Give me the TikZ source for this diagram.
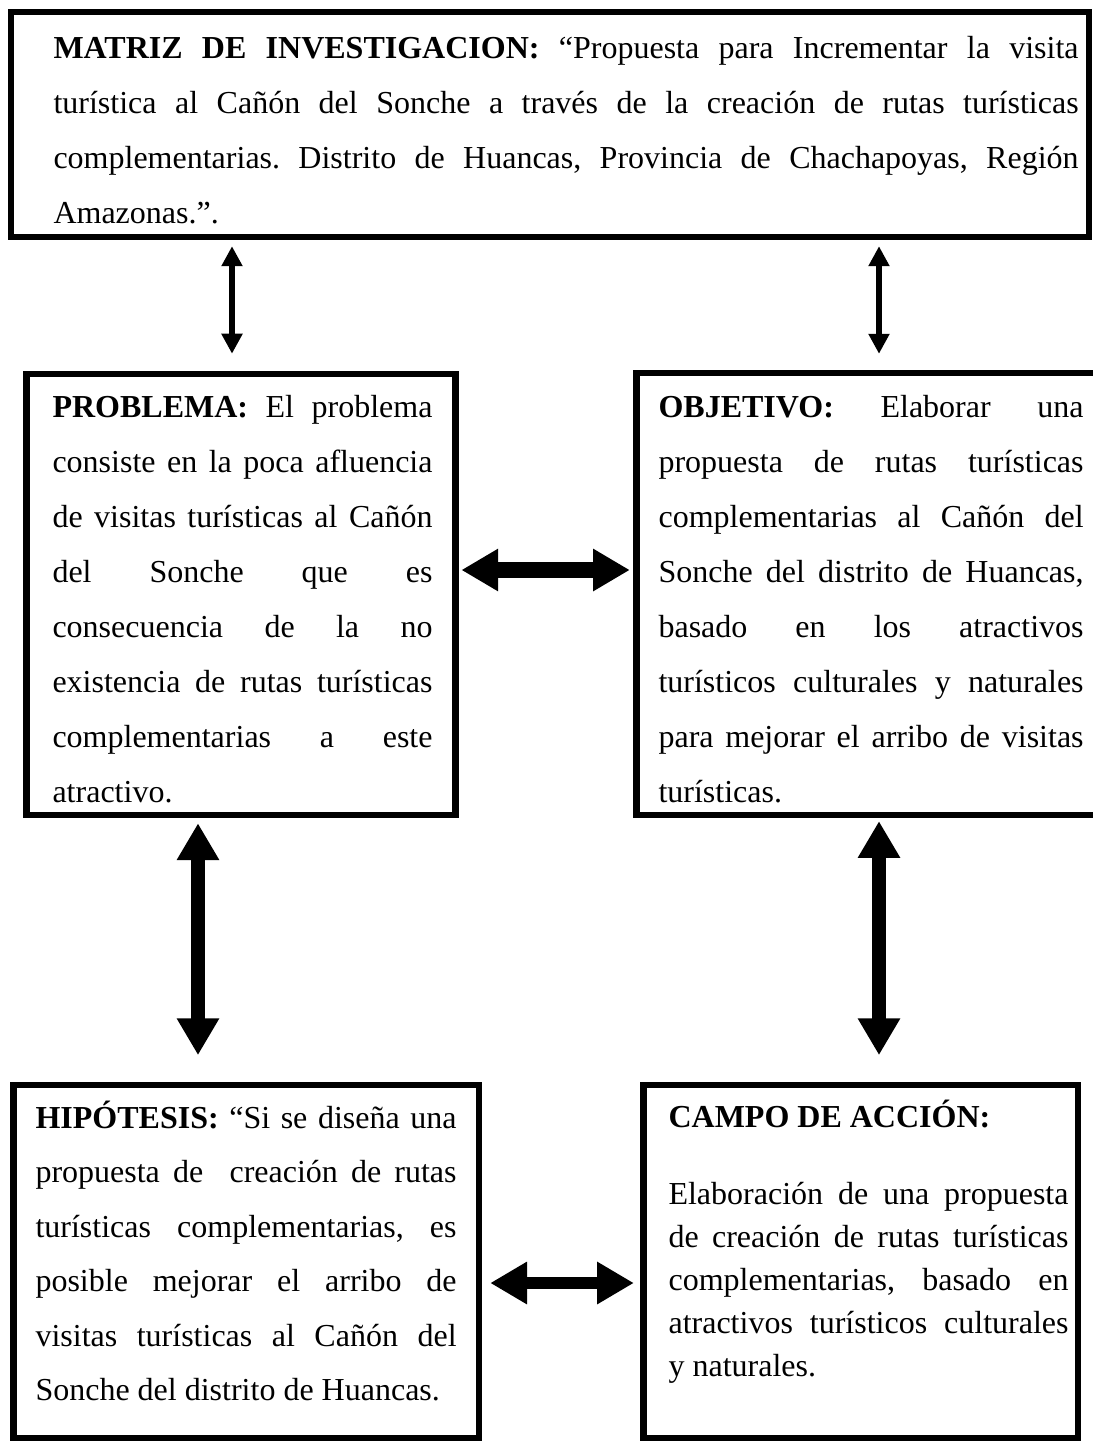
\documentclass[tikz,border=0pt]{standalone}
\usepackage{fontspec}
\setmainfont{Liberation Serif}
\usetikzlibrary{arrows.meta,fit}
\frenchspacing
\newcommand\JL[1]{\hbox to \hsize{#1}}
\newcommand\LL[1]{\hbox to \hsize{#1\hfil}}
\tikzset{
  box/.style={draw, line width=2.4pt, inner sep=0pt},
  txt/.style={anchor=base west, inner sep=0pt, font=\fontsize{12pt}{20.625pt}\selectfont},
  thinarr/.style={line width=1.9pt, {Triangle[length=7.5pt,width=7.5pt]}-{Triangle[length=7.5pt,width=7.5pt]}},
  thickarr/.style={line width=5.1pt, {Triangle[length=13.8pt,width=15pt]}-{Triangle[length=13.8pt,width=15pt]}}
}
\begin{document}
\begin{tikzpicture}[x=0.375pt,y=-0.375pt]
\useasboundingbox (0,0) rectangle (1093,1442);
\clip (0,0) rectangle (1093,1442);
\fill[white] (0,0) rectangle (1093,1442);

% boxes
\node[box, fit={(11,12) (1089,237)}] (top) {};
\node[box, fit={(26.5,374) (455.5,815)}] (prob) {};
\node[box, fit={(636.5,373) (1097,815)}] (obj) {};
\node[box, fit={(13.5,1085) (479,1438)}] (hip) {};
\node[box, fit={(643.5,1085) (1078,1438)}] (campo) {};

% texts
\node[txt] (toptxt) at (53,58) {\parbox[t]{384.4pt}{\baselineskip=20.625pt
\JL{\textbf{MATRIZ DE INVESTIGACION:} “Propuesta para Incrementar la visita}
\JL{turística al Cañón del Sonche a través de la creación de rutas turísticas}
\JL{complementarias. Distrito de Huancas, Provincia de Chachapoyas, Región}
\LL{Amazonas.”.}}};

\node[txt] (probtxt) at (52,417) {\parbox[t]{142.5pt}{\baselineskip=20.625pt
\JL{\textbf{PROBLEMA:} El problema}
\JL{consiste en la poca afluencia}
\JL{de visitas turísticas al Cañón}
\JL{del Sonche que es}
\JL{consecuencia de la no}
\JL{existencia de rutas turísticas}
\JL{complementarias a este}
\LL{atractivo.}}};

\node[txt] (objtxt) at (658,417) {\parbox[t]{159.4pt}{\baselineskip=20.625pt
\JL{\textbf{OBJETIVO:} Elaborar una}
\JL{propuesta de rutas turísticas}
\JL{complementarias al Cañón del}
\JL{Sonche del distrito de Huancas,}
\JL{basado en los atractivos}
\JL{turísticos culturales y naturales}
\JL{para mejorar el arribo de visitas}
\LL{turísticas.}}};

\node[txt] (hiptxt) at (35,1128) {\parbox[t]{157.9pt}{\baselineskip=20.44pt
\JL{\textbf{HIPÓTESIS:} “Si se diseña una}
\JL{propuesta de \ creación de rutas}
\JL{turísticas complementarias, es}
\JL{posible mejorar el arribo de}
\JL{visitas turísticas al Cañón del}
\LL{Sonche del distrito de Huancas.}}};

\node[txt] (campotxt) at (668,1127) {\parbox[t]{150pt}{\baselineskip=16.125pt
\LL{\textbf{CAMPO DE ACCIÓN:}}
\vskip 12.75pt
\JL{Elaboración de una propuesta}
\JL{de creación de rutas turísticas}
\JL{complementarias, basado en}
\JL{atractivos turísticos culturales}
\LL{y naturales.}}};

% arrow guide coordinates
\coordinate (c1) at (232,0);
\coordinate (c2) at (879,0);
\coordinate (c3) at (0,570);
\coordinate (c4) at (198,0);
\coordinate (c5) at (879,0);
\coordinate (c6) at (0,1283);

% connectors
\draw[thinarr, shorten <=2.25pt, shorten >=6.4pt] (top.south -| c1) -- (prob.north -| c1);
\draw[thinarr, shorten <=2.25pt, shorten >=6pt] (top.south -| c2) -- (obj.north -| c2);
\draw[thickarr, line width=5.8pt, shorten <=1pt, shorten >=1.3pt] (prob.east |- c3) -- (obj.west |- c3);
\draw[thickarr, shorten <=1.9pt, shorten >=10pt] (prob.south -| c4) -- (hip.north -| c4);
\draw[thickarr, shorten <=1.1pt, shorten >=10pt] (obj.south -| c5) -- (campo.north -| c5);
\draw[thickarr, line width=4.6pt, shorten <=3pt, shorten >=2.4pt] (hip.east |- c6) -- (campo.west |- c6);
\end{tikzpicture}
\end{document}
